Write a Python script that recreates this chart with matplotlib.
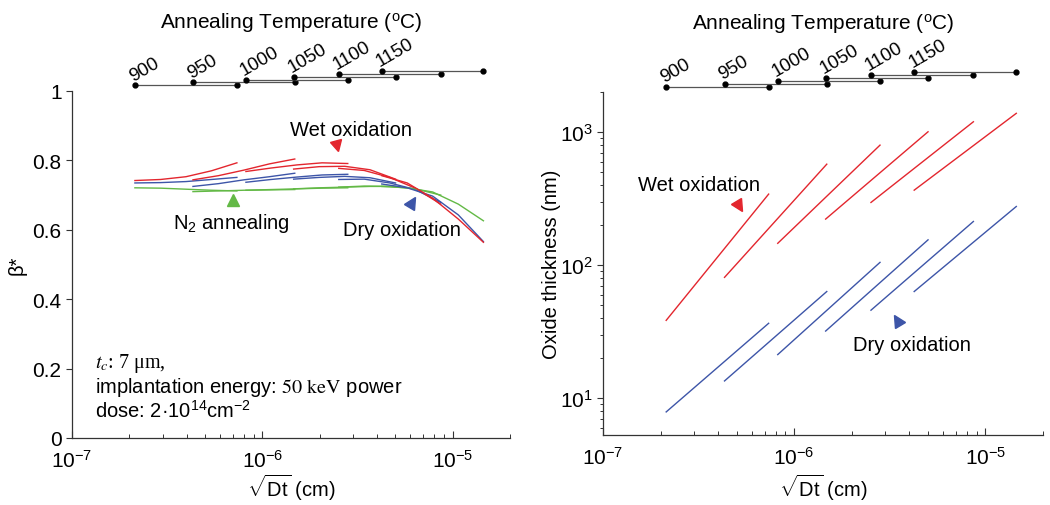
import matplotlib.pyplot as plt
from matplotlib.markers import MarkerStyle
from matplotlib.transforms import Affine2D
from matplotlib.ticker import LogLocator, NullFormatter, FixedLocator

plt.rcParams['font.family'] = ['Liberation Sans', 'DejaVu Sans']
plt.rcParams['mathtext.fontset'] = 'custom'
plt.rcParams['mathtext.rm'] = 'Liberation Sans'
plt.rcParams['mathtext.it'] = 'Liberation Sans:italic'
plt.rcParams['mathtext.bf'] = 'Liberation Sans:bold'

# ==========================================
# Data
# ==========================================

temps = [900, 950, 1000, 1050, 1100, 1150]

# sqrt(Dt) sample points (cm) for each anneal temperature
sqrt_dt = [
    [2.14e-7, 2.92e-7, 3.97e-7, 5.40e-7, 7.35e-7],
    [4.32e-7, 5.88e-7, 8.00e-7, 1.09e-6, 1.48e-6],
    [8.20e-7, 1.11e-6, 1.52e-6, 2.06e-6, 2.81e-6],
    [1.46e-6, 1.99e-6, 2.71e-6, 3.68e-6, 5.01e-6],
    [2.52e-6, 3.43e-6, 4.67e-6, 6.36e-6, 8.65e-6],
    [4.24e-6, 5.77e-6, 7.85e-6, 1.07e-5, 1.45e-5],
]

# beta* at those points
beta_wet = [
    [0.742, 0.745, 0.753, 0.770, 0.793],
    [0.744, 0.756, 0.772, 0.790, 0.804],
    [0.768, 0.778, 0.787, 0.793, 0.791],
    [0.775, 0.782, 0.783, 0.773, 0.746],
    [0.777, 0.771, 0.751, 0.720, 0.674],
    [0.756, 0.735, 0.691, 0.631, 0.564],
]
beta_dry = [
    [0.735, 0.736, 0.739, 0.745, 0.751],
    [0.725, 0.733, 0.744, 0.753, 0.763],
    [0.737, 0.745, 0.752, 0.758, 0.760],
    [0.746, 0.751, 0.754, 0.750, 0.735],
    [0.745, 0.746, 0.735, 0.716, 0.679],
    [0.732, 0.721, 0.697, 0.643, 0.566],
]
beta_n2 = [
    [0.721, 0.720, 0.717, 0.714, 0.712],
    [0.710, 0.712, 0.714, 0.715, 0.716],
    [0.714, 0.716, 0.718, 0.720, 0.721],
    [0.718, 0.721, 0.723, 0.725, 0.725],
    [0.723, 0.726, 0.725, 0.718, 0.700],
    [0.725, 0.721, 0.709, 0.674, 0.626],
]

# oxide thickness (nm) at start / end of each anneal
tox_wet = [[38.5, 342], [81, 574], [146, 798], [222, 1005], [296, 1195], [366, 1383]]
tox_dry = [[7.9, 36.6], [13.5, 63.4], [21.3, 105], [32, 155], [45.9, 213], [63.4, 276]]

RED = '#e3262e'
BLUE = '#3d55a8'
GREEN = '#63b946'
FS = 14.5


def temp_scale(ax):
    tr = ax.get_xaxis_transform()
    for i, (t, row) in enumerate(zip(temps, sqrt_dt)):
        yy = 1.016 + 0.0085 * i
        ax.plot([row[0], row[-1]], [yy, yy], color='#555555', lw=0.9,
                transform=tr, clip_on=False)
        ax.plot([row[0], row[-1]], [yy, yy], 'o', color='black', ms=3.5,
                transform=tr, clip_on=False)
        ax.annotate(str(t), (row[0], yy), xycoords=tr, xytext=(0, 1),
                    textcoords='offset points', rotation=30,
                    rotation_mode='anchor', ha='left', va='bottom', fontsize=13.5)
    ax.text(0.5, 1.20, r'Annealing Temperature ($^{\rm o}$C)',
            transform=ax.transAxes, ha='center', va='center', fontsize=15)


def style_axes(ax):
    for s in ['top', 'right']:
        ax.spines[s].set_visible(False)
    for s in ['left', 'bottom']:
        ax.spines[s].set_color('#333333')
        ax.spines[s].set_linewidth(0.9)
    ax.set_xscale('log')
    ax.set_xlim(1e-7, 2e-5)
    ax.xaxis.set_major_locator(LogLocator(base=10))
    ax.xaxis.set_minor_locator(LogLocator(base=10, subs=range(2, 10)))
    ax.xaxis.set_minor_formatter(NullFormatter())
    ax.tick_params(axis='x', which='major', direction='in', length=5,
                   width=0.8, labelsize=15, pad=7.5, color='#333333')
    ax.tick_params(axis='x', which='minor', direction='in', length=3,
                   width=0.7, color='#333333')
    ax.tick_params(axis='y', which='major', direction='out', length=4,
                   width=0.8, labelsize=15, color='#333333')
    ax.tick_params(axis='y', which='minor', direction='out', length=2.5,
                   width=0.7, color='#333333')
    ax.set_xlabel(r'$\sqrt{\rm Dt}$ (cm)', fontsize=FS)


def tri(ax, x, y, kind, angle, color):
    m = MarkerStyle(kind, transform=Affine2D().rotate_deg(angle))
    ax.plot([x], [y], marker=m, color=color, ms=8, ls='none', clip_on=False)


fig = plt.figure(figsize=(10.5, 5.06), dpi=100)
ax1 = fig.add_axes([72 / 1050, 67 / 506, 438 / 1050, 347 / 506])
ax2 = fig.add_axes([603 / 1050, 70 / 506, 440 / 1050, 343 / 506])

# ==========================================
# Left: beta* vs sqrt(Dt)
# ==========================================

for i in range(len(temps)):
    ax1.plot(sqrt_dt[i], beta_n2[i], color=GREEN, lw=1.0)
    ax1.plot(sqrt_dt[i], beta_dry[i], color=BLUE, lw=1.0)
    ax1.plot(sqrt_dt[i], beta_wet[i], color=RED, lw=1.0)

style_axes(ax1)
ax1.set_ylim(0, 1)
ax1.yaxis.set_major_locator(FixedLocator([0, 0.2, 0.4, 0.6, 0.8, 1.0]))
ax1.set_yticklabels(['0', '0.2', '0.4', '0.6', '0.8', '1'])
ax1.set_ylabel('β*', fontsize=FS)
ax1.yaxis.set_label_coords(-0.103, 0.5)
ax1.xaxis.set_label_coords(0.5, -0.098)

ax1.text(2.92e-6, 0.89, 'Wet oxidation', ha='center', va='center', fontsize=FS)
tri(ax1, 2.46e-6, 0.841, 'v', 15, RED)
ax1.text(6.9e-7, 0.622, r'N$_2$ annealing', ha='center', va='center', fontsize=FS)
tri(ax1, 7.0e-7, 0.686, '^', 0, GREEN)
ax1.text(5.4e-6, 0.602, 'Dry oxidation', ha='center', va='center', fontsize=FS)
tri(ax1, 6.1e-6, 0.68, '^', -30, BLUE)

ax1.text(0.0525, 0.205, r'$t_c$: 7 μm,', transform=ax1.transAxes,
         fontsize=FS, family='Liberation Serif', math_fontfamily='stix',
         va='baseline')
ax1.text(0.0525, 0.133, r'implantation energy: $\mathrm{50\ keV}$ power',
         transform=ax1.transAxes, fontsize=FS, math_fontfamily='stix',
         va='baseline')
ax1.text(0.0525, 0.061, r'dose: 2·10$^{14}$cm$^{-2}$', transform=ax1.transAxes,
         fontsize=FS, va='baseline')

temp_scale(ax1)

# ==========================================
# Right: oxide thickness vs sqrt(Dt)
# ==========================================

for i in range(len(temps)):
    xs = [sqrt_dt[i][0], sqrt_dt[i][-1]]
    ax2.plot(xs, tox_wet[i], color=RED, lw=1.0)
    ax2.plot(xs, tox_dry[i], color=BLUE, lw=1.0)

style_axes(ax2)
ax2.set_yscale('log')
ax2.set_ylim(5.3, 2000)
ax2.yaxis.set_major_locator(LogLocator(base=10))
ax2.yaxis.set_minor_locator(LogLocator(base=10, subs=range(2, 10)))
ax2.yaxis.set_minor_formatter(NullFormatter())
ax2.set_ylabel('Oxide thickness (nm)', fontsize=FS)
ax2.yaxis.set_label_coords(-0.095, 0.5)
ax2.xaxis.set_label_coords(0.5, -0.108)

ax2.text(3.17e-7, 406, 'Wet oxidation', ha='center', va='center', fontsize=FS)
tri(ax2, 5.13e-7, 278, 'v', 30, RED)
ax2.text(4.11e-6, 25.5, 'Dry oxidation', ha='center', va='center', fontsize=FS)
tri(ax2, 3.43e-6, 38.5, '^', 30, BLUE)

temp_scale(ax2)

fig.savefig('out.png', dpi=100)
plt.close(fig)
